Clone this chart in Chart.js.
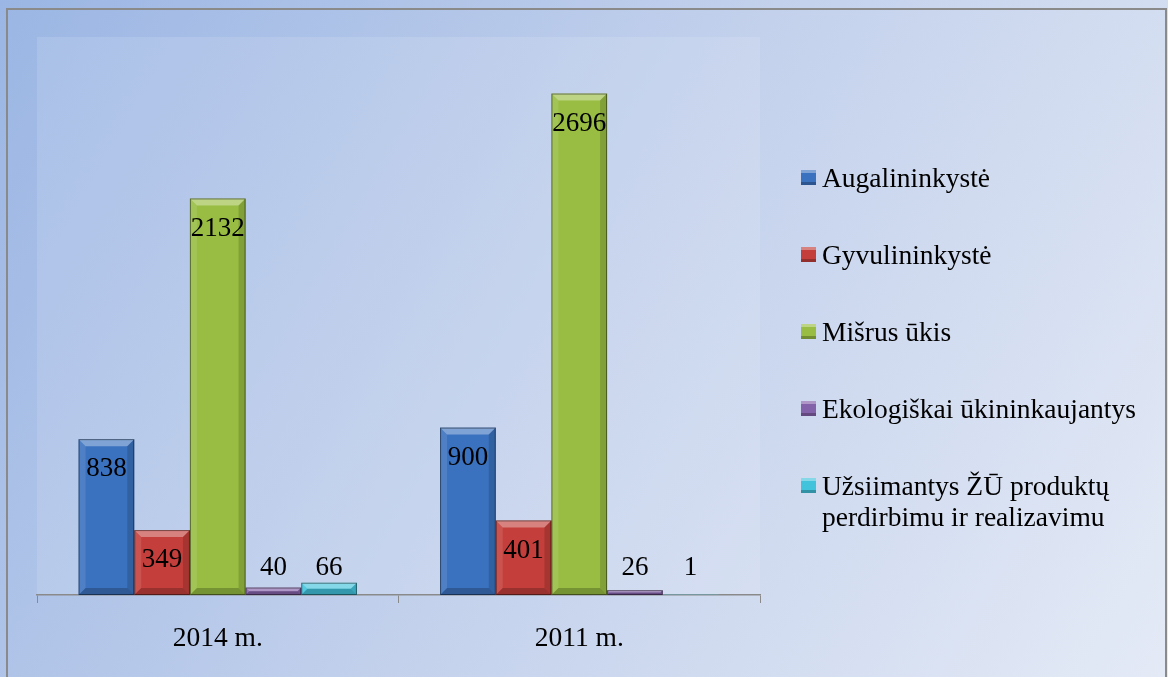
<!DOCTYPE html>
<html>
<head>
<meta charset="utf-8">
<script src="https://cdn.jsdelivr.net/npm/chart.js@4.4.1/dist/chart.umd.min.js"></script>
<style>
  body { margin: 0; }
  #wrap { position: relative; width: 1168px; height: 677px; }
  #legend { position: absolute; left: 801px; top: 0; font-family: 'Liberation Serif', 'Times New Roman', serif; font-size: 27.5px; color: #000; }
  .item { position: absolute; left: 0; display: flex; align-items: flex-start; line-height: 31px; }
  .box { flex: none; width: 15px; height: 15px; margin-top: 8px; margin-right: 6px; box-sizing: border-box;
         box-shadow: inset 0 3px 0 rgba(255,255,255,0.35), inset 0 -3px 0 rgba(0,0,0,0.25); }
  .txt { width: 340px; }
</style>
</head>
<body>
<div id="wrap">
  <canvas id="chart" width="1168" height="677"></canvas>
  <div id="legend"></div>
</div>
<script>
// data
const categories = ['2014 m.', '2011 m.'];
const seriesNames = ['Augalininkystė', 'Gyvulininkystė', 'Mišrus ūkis', 'Ekologiškai ūkininkaujantys', 'Užsiimantys ŽŪ produktų perdirbimu ir realizavimu'];
const augalininkyste = [838, 900];
const gyvulininkyste = [349, 401];
const misrusUkis = [2132, 2696];
const ekologiskai = [40, 26];
const perdirbimas = [66, 1];
const colors = ['#3b72bf', '#c43f3b', '#98bd42', '#8462aa', '#42c3dc'];

const seriesValues = [augalininkyste, gyvulininkyste, misrusUkis, ekologiskai, perdirbimas];

// background, frame and plot area
const backdrop = {
    id: 'backdrop',
    beforeDraw(chart) {
        const ctx = chart.ctx;
        const w = chart.width, h = chart.height;
        ctx.save();
        const g = ctx.createLinearGradient(0, 0, w, h);
        g.addColorStop(0, '#9bb6e4');
        g.addColorStop(0.5, '#c3d1ec');
        g.addColorStop(1, '#e4eaf6');
        ctx.fillStyle = g;
        ctx.fillRect(0, 0, w, h);
        const a = chart.chartArea;
        ctx.fillStyle = 'rgba(255,255,255,0.12)';
        ctx.fillRect(a.left, a.top, a.right - a.left, a.bottom - a.top);
        ctx.strokeStyle = '#8a8a8a';
        ctx.lineWidth = 2;
        ctx.strokeRect(7, 9, w - 9, h + 10);
        ctx.restore();
    }
};

// bevel look on the bars
const bevel = {
    id: 'bevel',
    afterDatasetsDraw(chart) {
        const ctx = chart.ctx;
        chart.data.datasets.forEach((ds, i) => {
            chart.getDatasetMeta(i).data.forEach(bar => {
                const { x, y, base, width } = bar.getProps(['x', 'y', 'base', 'width'], true);
                const l = x - width / 2, r = x + width / 2, h = base - y;
                if (h < 1) return;
                const d = Math.min(7, h / 2);
                ctx.save();
                ctx.fillStyle = 'rgba(255,255,255,0.35)';
                ctx.beginPath(); ctx.moveTo(l, y); ctx.lineTo(r, y); ctx.lineTo(r - d, y + d); ctx.lineTo(l + d, y + d); ctx.fill();
                ctx.fillStyle = 'rgba(255,255,255,0.10)';
                ctx.beginPath(); ctx.moveTo(l, y); ctx.lineTo(l + d, y + d); ctx.lineTo(l + d, base - d); ctx.lineTo(l, base); ctx.fill();
                ctx.fillStyle = 'rgba(0,0,0,0.15)';
                ctx.beginPath(); ctx.moveTo(r, y); ctx.lineTo(r - d, y + d); ctx.lineTo(r - d, base - d); ctx.lineTo(r, base); ctx.fill();
                ctx.fillStyle = 'rgba(0,0,0,0.22)';
                ctx.beginPath(); ctx.moveTo(l, base); ctx.lineTo(l + d, base - d); ctx.lineTo(r - d, base - d); ctx.lineTo(r, base); ctx.fill();
                ctx.strokeStyle = 'rgba(0,0,0,0.45)';
                ctx.lineWidth = 1;
                ctx.strokeRect(l + 0.5, y + 0.5, width - 1, h - 1);
                ctx.restore();
            });
        });
    }
};

// value labels
const valueLabels = {
    id: 'valueLabels',
    afterDatasetsDraw(chart) {
        const ctx = chart.ctx;
        ctx.save();
        ctx.font = '27px "Liberation Serif", "Times New Roman", serif';
        ctx.fillStyle = '#000';
        ctx.textAlign = 'center';
        ctx.textBaseline = 'middle';
        chart.data.datasets.forEach((ds, i) => {
            chart.getDatasetMeta(i).data.forEach((bar, j) => {
                const { x, y, base } = bar.getProps(['x', 'y', 'base'], true);
                ctx.fillText(String(ds.data[j]), x, Math.min(y + 30, base - 27));
            });
        });
        ctx.restore();
    }
};

new Chart(document.getElementById('chart'), {
    type: 'bar',
    data: {
        labels: categories,
        datasets: seriesNames.map((name, i) => ({
            label: name,
            data: seriesValues[i],
            backgroundColor: colors[i],
            borderWidth: 0,
            categoryPercentage: 0.77,
            barPercentage: 1.0
        }))
    },
    options: {
        responsive: false,
        animation: false,
        layout: { padding: { left: 37, top: 37, right: 408, bottom: 20 } },
        scales: {
            x: {
                grid: { drawOnChartArea: false, color: '#8a8a8a', tickLength: 8, offset: true },
                border: { color: '#8a8a8a', width: 1.5 },
                ticks: { color: '#000', padding: 19, font: { family: 'Liberation Serif', size: 27.5 } },
                afterFit(scale) { scale.height = 62; }
            },
            y: { display: false, min: 0, max: 3000 }
        },
        plugins: {
            legend: { display: false },
            tooltip: { enabled: false }
        }
    },
    plugins: [backdrop, bevel, valueLabels]
});

// legend on the right
const legend = document.getElementById('legend');
seriesNames.forEach((name, i) => {
    const item = document.createElement('div');
    item.className = 'item';
    item.style.top = (162 + i * 77) + 'px';
    const box = document.createElement('div');
    box.className = 'box';
    box.style.background = colors[i];
    const txt = document.createElement('div');
    txt.className = 'txt';
    txt.textContent = name;
    item.appendChild(box);
    item.appendChild(txt);
    legend.appendChild(item);
});
</script>
</body>
</html>
